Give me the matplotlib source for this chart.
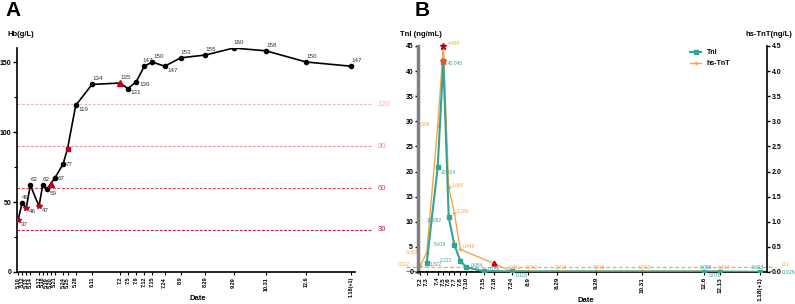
import matplotlib.pyplot as plt

plt.rcParams['font.family'] = ['Liberation Sans', 'DejaVu Sans']
plt.rcParams['font.weight'] = 'bold'

# ---- panel A : haemoglobin ----
hb_dates = ['5.10', '5.12', '5.13', '5.14', '5.17', '5.18', '5.19', '5.20', '5.21',
            '5.24', '5.25', '5.28', '6.11', '7.2', '7.5', '7.9', '7.12', '7.15',
            '7.24', '8.9', '8.29', '9.29', '10.31', '12.6', '1.18(+1)']
# position of each date on the (segmented) date axis
hb_pos = [1, 5, 9.3, 13.3, 22, 25.7, 29.7, 33.7, 37.7, 46, 50.5, 58.7, 75,
          103, 111, 119.3, 127.3, 135.3, 147.7, 163.7, 188.3, 216.7, 249, 289.3, 334.3]
hb_values = [37, 49, 46, 62, 47, 62, 59, 63, 67, 77, 88, 119, 134,
             135, 131, 136, 147, 150, 147, 153, 155, 160, 158, 150, 147]
hb_refs = [120, 90, 60, 30]

# ---- panel B : troponins ----
tn_dates = ['7.2', '7.3', '7.4', '7.5', '7.6', '7.7', '7.8', '7.10', '7.15', '7.18',
            '7.24', '8.9', '8.29', '9.29', '10.31', '12.6', '12.13', '1.18(+1)']
tn_pos = [2, 8.7, 19.7, 25.3, 30.7, 36.3, 42.3, 48.3, 65.7, 76, 93.7, 110.3,
          139.3, 178, 223.7, 286, 302.3, 342]
tni = [None, 1.822, 20.924, 42.045, 10.882, 5.418, 2.221, 0.954, 0.158, None,
       0.118, None, None, None, None, 0.088, 0.070, 0.023]
tnt = [0.112, 0.383, 2.906, 4.498, 1.690, 1.180, 0.449, None, None, 0.17,
       0.011, 0.012, 0.013, 0.013, 0.013, None, 0.014, None]
tni_ref = 0.026
tnt_ref = 0.1

TEAL = '#33a394'
ORANGE = '#f5a54a'
RED = '#c3001c'

fig = plt.figure(figsize=(7.95, 3.04), dpi=100)

# ================= A =================
ax = fig.add_axes([0.0214, 0.1053, 0.4251, 0.7367])
ax.plot(hb_pos, hb_values, '-', color='black', lw=1.2, zorder=3)
red_marks = {0: '*', 2: '*', 4: '*', 7: '^', 10: 's', 13: '^'}
for i, (x, y) in enumerate(zip(hb_pos, hb_values)):
    if i in red_marks:
        ax.plot(x, y, marker=red_marks[i], color=RED, ms=4 if red_marks[i] != 's' else 2.5,
                zorder=4)
    else:
        ax.plot(x, y, 'o', color='black', ms=3, zorder=4)

# label offsets (points); None = no label
offs = [(2, -3), (0, 4), (2, -3), (0, 4), (2, -3), (0, 4), (2, -3), None, (2, 0),
        (2, 0), None, (2, -3), (0, 4), (0, 4), (2, -3), (2, -2), (-1, 4), (1, 4),
        (2, -3), (0, 4), (0, 4), (0, 4), (0, 4), (0, 4), (0, 4)]
for x, y, o in zip(hb_pos, hb_values, offs):
    if o is None:
        continue
    ax.annotate(str(y), (x, y), xytext=o, textcoords='offset points',
                fontsize=4.5, fontweight='normal', color='#333333',
                ha='left', va='center')

ref_colors = ['#f6b3bb', '#ec8c97', '#dc4458', '#b71f3c']
for val, c in zip(hb_refs, ref_colors):
    ax.plot([0, 355], [val, val], '--', color=c, lw=0.8, dashes=(2.5, 1.5),
            clip_on=False, zorder=1)
    ax.text(361, val, str(val), color=c, fontsize=5.5, fontweight='normal',
            va='center', ha='left')

ax.set_xlim(0, 338)
ax.set_ylim(0, 160)
ax.set_xticks(hb_pos)
ax.set_xticklabels(hb_dates, rotation=90, fontsize=4)
ax.set_yticks([0, 50, 100, 150])
ax.set_yticks(range(0, 161, 25), minor=True)
ax.tick_params(axis='y', labelsize=5, length=3, width=1, pad=1)
ax.tick_params(axis='y', which='minor', length=2, width=0.8)
ax.tick_params(axis='x', length=2.5, width=0.8, pad=1)
for s in ['top', 'right']:
    ax.spines[s].set_visible(False)
for s in ['left', 'bottom']:
    ax.spines[s].set_linewidth(1.2)
fig.text(7 / 795, 1 - 34 / 304, 'Hb(g/L)', fontsize=5.5, fontweight='bold', va='center')
fig.text(190 / 795, 1 - 299 / 304, 'Date', fontsize=5.5, fontweight='bold', va='center')
fig.text(5 / 795, 1 - 10 / 304, 'A', fontsize=15, fontweight='bold', va='center')

# ================= B =================
bx = fig.add_axes([0.5258, 0.1053, 0.439, 0.7434])
bx2 = bx.twinx()

tni_x = [p for p, v in zip(tn_pos, tni) if v is not None]
tni_y = [v for v in tni if v is not None]
tnt_x = [p for p, v in zip(tn_pos, tnt) if v is not None]
tnt_y = [v for v in tnt if v is not None]

bx2.plot(tnt_x, tnt_y, '-', color=ORANGE, lw=1, marker='+', ms=3, zorder=2,
         label='hs-TnT')
bx.set_zorder(bx2.get_zorder() + 1)
bx.patch.set_visible(False)
bx.plot(tni_x, tni_y, '-', color=TEAL, lw=1.5, marker='s', ms=3, zorder=3, label='TnI')

# reference lines (right scale)
bx2.plot([-12, 358], [tnt_ref, tnt_ref], '--', color=ORANGE, lw=0.9, dashes=(3, 2),
         clip_on=False)
bx2.plot([-12, 358], [tni_ref, tni_ref], '--', color=TEAL, lw=0.9, dashes=(3, 2),
         clip_on=False)
bx2.text(364, tnt_ref + 0.04, str(tnt_ref), color=ORANGE, fontsize=4,
         fontweight='normal', va='center')
bx2.text(364, tni_ref - 0.04, str(tni_ref), color=TEAL, fontsize=4,
         fontweight='normal', va='center')

# event markers
peak = tn_pos[3]
bx2.plot(peak, tnt[3], '*', color=RED, ms=5, zorder=5, clip_on=False)
bx.plot(peak, tni[3], '*', color='#e0552a', ms=5, zorder=5)
bx2.plot(tn_pos[9], tnt[9], '^', color=RED, ms=3.5, zorder=5)

tni_offs = {1: (2, -1), 2: (2, -4), 3: (3, -2), 4: (-16, -2), 5: (-15, 0),
            6: (-15, 0), 7: (3, 1), 8: (3, 1), 10: (3, -3), 15: (-3, 3),
            16: (-8, -3), 17: (-6, 3)}
for i, o in tni_offs.items():
    bx.annotate(f'{tni[i]:.3f}', (tn_pos[i], tni[i]), xytext=o, textcoords='offset points',
                fontsize=3.5, fontweight='normal', color=TEAL, va='center', ha='left')
tnt_offs = {0: (-16, 1), 1: (-15, 0), 2: (-14, 1), 3: (3, 2), 4: (2, 1), 5: (2, 1),
            6: (2, 2), 10: (-2, 3), 11: (-2, 3), 12: (-2, 3), 13: (-2, 3), 14: (-2, 3),
            16: (-2, 3)}
for i, o in tnt_offs.items():
    bx2.annotate(f'{tnt[i]:.3f}', (tn_pos[i], tnt[i]), xytext=o, textcoords='offset points',
                 fontsize=3.5, fontweight='normal', color=ORANGE, va='center', ha='left')

bx.set_xlim(0, 349)
bx.set_ylim(0, 45)
bx2.set_ylim(0, 4.5)
bx.set_xticks(tn_pos)
bx.set_xticklabels(tn_dates, rotation=90, fontsize=4.5)
bx.set_yticks(range(0, 46, 5))
bx2.set_yticks([i * 0.5 for i in range(10)])
bx2.set_yticklabels([f'{i * 0.5:.1f}' for i in range(10)])
bx.tick_params(axis='y', labelsize=5, length=2.5, width=1, pad=1)
bx2.tick_params(axis='y', labelsize=5, length=2.5, width=1, pad=1)
bx.tick_params(axis='x', length=2.5, width=0.8, pad=1)
for a in (bx, bx2):
    a.spines['top'].set_visible(False)
bx.spines['right'].set_visible(False)
bx2.spines['left'].set_visible(False)
bx2.spines['bottom'].set_visible(False)
bx.spines['left'].set_color('#808080')
bx.spines['left'].set_linewidth(2.5)
bx.spines['bottom'].set_linewidth(1.2)
bx2.spines['right'].set_linewidth(1.2)

h1, l1 = bx.get_legend_handles_labels()
h2, l2 = bx2.get_legend_handles_labels()
fig.legend(h1 + h2, l1 + l2, loc='upper left', bbox_to_anchor=(684 / 795, 1 - 43 / 304),
           frameon=False, handlelength=1.6, labelspacing=0.6,
           prop={'size': 5, 'weight': 'bold'})

fig.text(400 / 795, 1 - 34 / 304, 'TnI (ng/mL)', fontsize=5.5, fontweight='bold', va='center')
fig.text(745 / 795, 1 - 34 / 304, 'hs-TnT(ng/L)', fontsize=5.5, fontweight='bold', va='center')
fig.text(578 / 795, 1 - 300 / 304, 'Date', fontsize=5.5, fontweight='bold', va='center')
fig.text(415 / 795, 1 - 10 / 304, 'B', fontsize=15, fontweight='bold', va='center')

fig.savefig('out.png', dpi=100)
